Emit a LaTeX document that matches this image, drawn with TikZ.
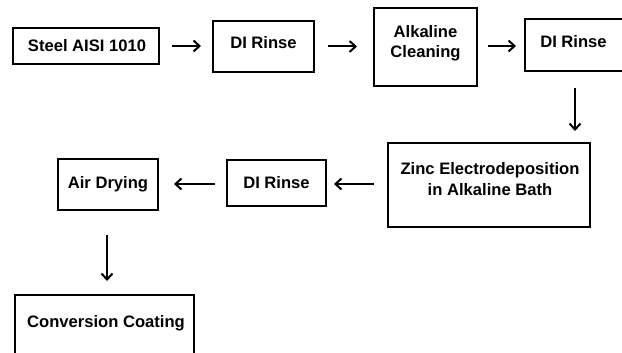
\documentclass[tikz,border=0pt]{standalone}
\usepackage{fontspec}
\setmainfont{Liberation Sans}
\usetikzlibrary{arrows.meta,calc}
\tikzset{
  box/.style={draw=black, line width=2pt, rectangle, inner sep=0pt},
  txt/.style={font=\bfseries\fontsize{16.6pt}{20.5pt}\selectfont, anchor=base, align=center, inner sep=0pt},
  arr/.style={line width=2pt, -{Straight Barb[length=6pt,width=11pt,line width=2pt]}}
}
\begin{document}
\begin{tikzpicture}[x=1pt,y=-1pt]
\useasboundingbox (0,0) rectangle (622,353);
\clip (0,0) rectangle (622,353);
\fill[white] (0,0) rectangle (622,353);
% boxes
\node[box, minimum width=146pt, minimum height=36pt] (steel) at (86,46) {};
\node[box, minimum width=101pt, minimum height=51pt] (rinseA) at (263.5,46.5) {};
\node[box, minimum width=103pt, minimum height=78pt] (alk) at (425.5,47) {};
\node[box, minimum width=100pt, minimum height=52pt] (rinseB) at (575,45) {};
\node[box, minimum width=202pt, minimum height=84pt] (zinc) at (489,185) {};
\node[box, minimum width=99pt, minimum height=46pt] (rinseC) at (276.5,183) {};
\node[box, minimum width=100pt, minimum height=51pt] (air) at (108,184.5) {};
\node[box, minimum width=179pt, minimum height=80pt] (conv) at (104.5,335) {};
% texts
\node[txt] (tsteel) at (87,52) {Steel AISI 1010};
\node[txt] (trinseA) at (263.5,49) {DI Rinse};
\node[txt] (talk) at (425.5,58) {Alkaline\\Cleaning};
\node[txt] (trinseB) at (573.5,48) {DI Rinse};
\node[txt] (tzinc) at (490,195) {Zinc Electrodeposition\\in Alkaline Bath};
\node[txt] (trinseC) at (276.5,188) {DI Rinse};
\node[txt] (tair) at (108,189) {Air Drying};
\node[txt] (tconv) at (106,327) {Conversion Coating};
% connectors
\draw[arr] ($(steel.east)+(12,0)$) -- ($(rinseA.west)+(-11,-0.5)$);
\draw[arr] ($(rinseA.east)+(13,0)$) -- ($(alk.west)+(-16,-0.5)$);
\draw[arr] ($(alk.east)+(10,-1)$) -- ($(rinseB.west)+(-8,1)$);
\draw[arr] ($(rinseB.south)+(0,16)$) -- ($(rinseB.south)+(0,59)$);
\draw[arr] ($(zinc.west)+(-13,-1)$) -- ($(rinseC.east)+(7,1)$);
\draw[arr] ($(rinseC.west)+(-11,1)$) -- ($(air.east)+(15,-0.5)$);
\draw[arr] ($(air.south)+(-1,24)$) -- ($(air.south)+(-1,70)$);
\end{tikzpicture}
\end{document}
